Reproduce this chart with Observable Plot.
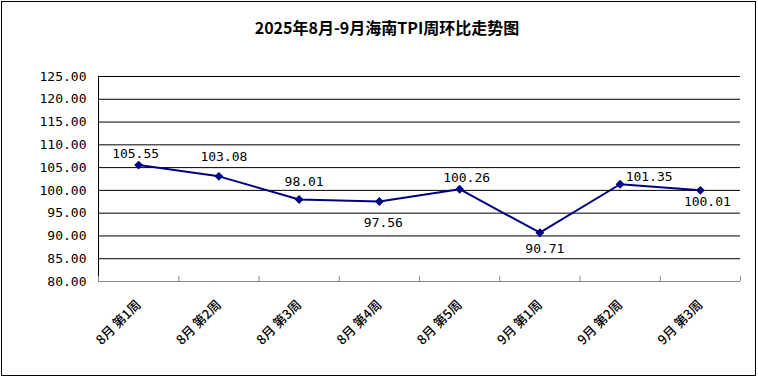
<!DOCTYPE html>
<html><head><meta charset="utf-8">
<script src="https://cdn.jsdelivr.net/npm/d3@7"></script>
<script src="https://cdn.jsdelivr.net/npm/@observablehq/plot@0.6"></script>
<style>
body{margin:0;background:#fff}
#wrap{position:relative;width:758px;height:377px;overflow:hidden;background:#fff}
#frame{position:absolute;left:1px;top:1px;width:755px;height:375px;box-sizing:border-box;border:1px solid #000;pointer-events:none}
#title{height:52px;text-align:center;font:bold 16px "Noto Sans CJK SC",sans-serif;line-height:55px;padding-left:16px;box-sizing:border-box;color:#000}
svg{display:block}
</style></head>
<body>
<div id="wrap"><div id="title">2025年8月-9月海南TPI周环比走势图</div><div id="chart"></div><div id="frame"></div></div>
<script>
const weeks = ["8月 第1周", "8月 第2周", "8月 第3周", "8月 第4周", "8月 第5周", "9月 第1周", "9月 第2周", "9月 第3周"];
const tpi = [105.55, 103.08, 98.01, 97.56, 100.26, 90.71, 101.35, 100.01];
const yTicks = [80, 85, 90, 95, 100, 105, 110, 115, 120, 125];

// label placement (style only)
const labelDx = [-3, 5, 5, 4, 7, 5, 29, 7];
const labelDy = [-11, -20, -18, 21, -11, 16, -7, 11];

const data = weeks.map((w, i) => ({i: i + 1, week: w, v: tpi[i]}));
const boundaries = d3.range(weeks.length + 1).map(k => k + 0.5);
const positions = weeks.map((w, i) => i + 1);
const mono = "'DejaVu Sans Mono', monospace";

const labelMarks = data.map((d, k) => Plot.text([d], {
  x: "i", y: "v", text: d => d.v.toFixed(2),
  dx: labelDx[k], dy: labelDy[k], fontFamily: mono, fontSize: 13, fill: "#000"
}));

const chart = Plot.plot({
  width: 758, height: 325,
  marginTop: 24, marginBottom: 96, marginLeft: 98, marginRight: 18,
  x: {domain: [0.5, weeks.length + 0.5]},
  y: {domain: [80, 125]},
  style: {fontFamily: "'Noto Sans CJK SC', sans-serif", background: "#fff", color: "#000"},
  marks: [
    Plot.ruleY(yTicks.slice(1), {stroke: "#000", strokeWidth: 1}),
    Plot.ruleY([80], {stroke: "#868686", strokeWidth: 1}),
    Plot.ruleX([0.5], {stroke: "#000", strokeWidth: 1}),
    Plot.axisY({ticks: yTicks, tickFormat: d3.format(".2f"), tickSize: 0, tickPadding: 12, label: null, fontFamily: mono, fontSize: 13}),
    Plot.axisX({ticks: boundaries, tickFormat: () => "", tickSize: -5, stroke: "#868686", label: null}),
    Plot.axisX({ticks: positions, tickFormat: p => weeks[p - 1], tickSize: 0, tickPadding: 21, tickRotate: -45, label: null, fontSize: 13, fontWeight: 500}),
    Plot.line(data, {x: "i", y: "v", stroke: "#000080", strokeWidth: 2}),
    Plot.dot(data, {x: "i", y: "v", symbol: "diamond2", r: 4, fill: "#000080", stroke: "none"}),
    ...labelMarks
  ]
});
document.getElementById("chart").appendChild(chart);
</script>
</body></html>
